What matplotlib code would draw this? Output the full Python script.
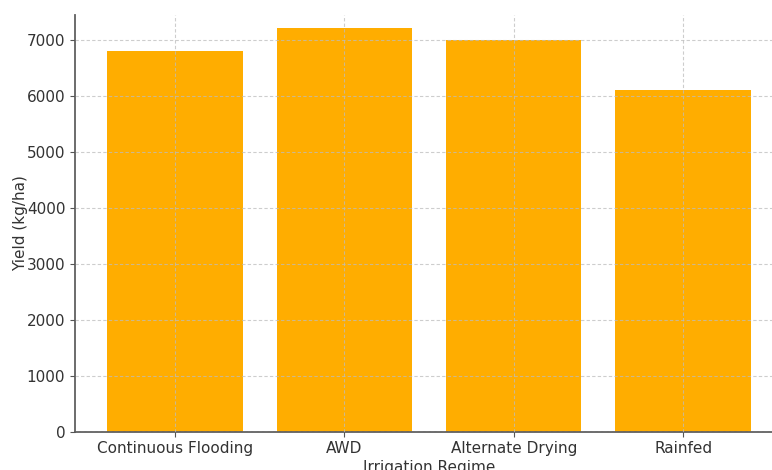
import matplotlib
matplotlib.use("Agg")
import matplotlib.pyplot as plt

# Grain yield by irrigation regime
regimes = ["Continuous Flooding", "AWD", "Alternate Drying", "Rainfed"]
yields = [6800, 7200, 7000, 6100]
y_ticks = [0, 1000, 2000, 3000, 4000, 5000, 6000, 7000]

fig = plt.figure(figsize=(7.72, 4.70), dpi=100)
# axes run slightly past the right edge of the canvas
ax = fig.add_axes([75 / 772, 38.5 / 470, 708 / 772, 416.5 / 470])

ax.bar(regimes, yields, width=0.8, color="#ffad00", zorder=1)
ax.set_xlim(-0.59, 3.59)
ax.set_ylim(0, 7440)
ax.set_yticks(y_ticks)

ax.grid(True, linestyle=(0, (3, 2)), color="#bdbdbd", linewidth=0.8, alpha=0.75, zorder=3)
ax.set_axisbelow(False)

for side in ("top", "right"):
    ax.spines[side].set_visible(False)
for side in ("left", "bottom"):
    ax.spines[side].set_color("#606060")
    ax.spines[side].set_linewidth(1.3)

ax.tick_params(axis="both", colors="#555555", labelcolor="#333333", labelsize=11, length=3.5)
ax.set_xlabel("Irrigation Regime", fontsize=11, color="#333333", labelpad=3)
ax.set_ylabel("Yield (kg/ha)", fontsize=11, color="#333333", labelpad=-1)

fig.savefig("out.png", dpi=100)
